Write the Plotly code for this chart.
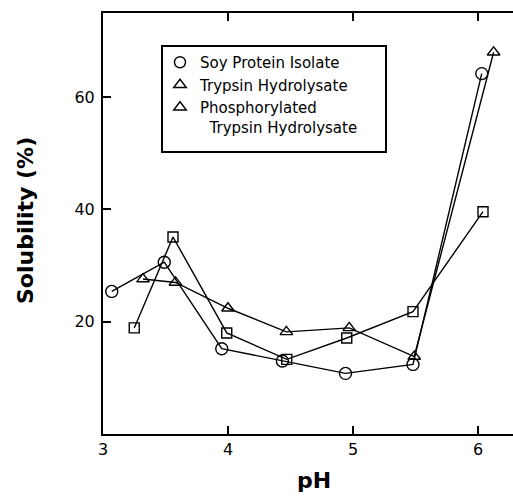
import plotly.graph_objects as go

# Data
soy_ph = [3.07, 3.49, 3.95, 4.435, 4.94, 5.48, 6.03]
soy_sol = [25.4, 30.6, 15.2, 13.0, 10.8, 12.4, 64.2]

tryp_ph = [3.32, 3.58, 4.0, 4.467, 4.97, 5.49, 6.125]
tryp_sol = [27.6, 27.0, 22.4, 18.2, 18.9, 13.8, 68.0]

phos_ph = [3.25, 3.56, 3.99, 4.47, 4.95, 5.48, 6.04]
phos_sol = [18.9, 35.1, 18.0, 13.3, 17.1, 21.8, 39.6]

legend_names = ["Soy Protein Isolate", "Trypsin Hydrolysate",
                "Phosphorylated<br>\u00a0\u00a0Trypsin Hydrolysate"]
legend_symbols = ["circle-open", "triangle-up-open", "triangle-up-open"]

x_ticks = [3, 4, 5, 6]
y_ticks = [20, 40, 60]

FONT = "DejaVu Sans"
fig = go.Figure()

series = [
    (soy_ph, soy_sol, "circle-open", 12),
    (tryp_ph, tryp_sol, "triangle-up-open", 11),
    (phos_ph, phos_sol, "square-open", 10),
]
for xs, ys, sym, sz in series:
    fig.add_trace(go.Scatter(
        x=xs, y=ys, mode="lines+markers", showlegend=False,
        line=dict(color="black", width=1.4),
        marker=dict(symbol=sym, size=sz, color="black", line=dict(width=1.4, color="black")),
        cliponaxis=False,
    ))

for name, sym in zip(legend_names, legend_symbols):
    fig.add_trace(go.Scatter(
        x=[None], y=[None], mode="markers", name=name,
        marker=dict(symbol=sym, size=11, color="black", line=dict(width=1.4, color="black")),
    ))

# plot area spans pixels x 103..513, y 13..434 of the page
def px_x(p):
    return (p - 103) / 410

def px_y(p):
    return (434 - p) / 421

fig.update_layout(
    width=513, height=500,
    margin=dict(l=103, r=0, t=13, b=66),
    paper_bgcolor="white", plot_bgcolor="white",
    font=dict(family=FONT, color="black"),
    showlegend=True,
    legend=dict(
        x=px_x(160), y=px_y(46), xanchor="left", yanchor="top",
        borderwidth=0, bgcolor="rgba(0,0,0,0)",
        font=dict(family=FONT, size=15, color="black"),
        valign="top", tracegroupgap=0,
    ),
    shapes=[dict(
        type="rect", xref="paper", yref="paper",
        x0=px_x(162), x1=px_x(386), y0=px_y(152), y1=px_y(46),
        line=dict(color="black", width=2), fillcolor="white", layer="above",
    )],
    xaxis=dict(
        range=[3, 6.28], tickvals=x_ticks, ticktext=[str(v) for v in x_ticks],
        ticks="inside", ticklen=8, tickwidth=1.5, tickcolor="black",
        showline=True, linecolor="black", linewidth=2, mirror="ticks",
        showgrid=False, zeroline=False,
        tickfont=dict(family=FONT, size=16, color="black"),
    ),
    yaxis=dict(
        range=[0, 75], tickvals=y_ticks, ticktext=[str(v) for v in y_ticks],
        ticks="inside", ticklen=8, tickwidth=1.5, tickcolor="black",
        showline=True, linecolor="black", linewidth=2, mirror=False,
        showgrid=False, zeroline=False, ticklabelstandoff=3,
        tickfont=dict(family=FONT, size=16, color="black"),
    ),
    annotations=[
        dict(text="<b>pH</b>", x=px_x(314), y=px_y(481), xref="paper", yref="paper",
             xanchor="center", yanchor="middle", showarrow=False,
             font=dict(family=FONT, size=22, color="black")),
        dict(text="<b>Solubility (%)</b>", x=px_x(25), y=px_y(221), xref="paper", yref="paper",
             xanchor="center", yanchor="middle", textangle=-90, showarrow=False,
             font=dict(family=FONT, size=22, color="black")),
    ],
)

fig.write_html(
    "out.html",
    config={"displayModeBar": False},
    post_script="document.body.style.margin='0';document.body.style.overflow='hidden';",
)
